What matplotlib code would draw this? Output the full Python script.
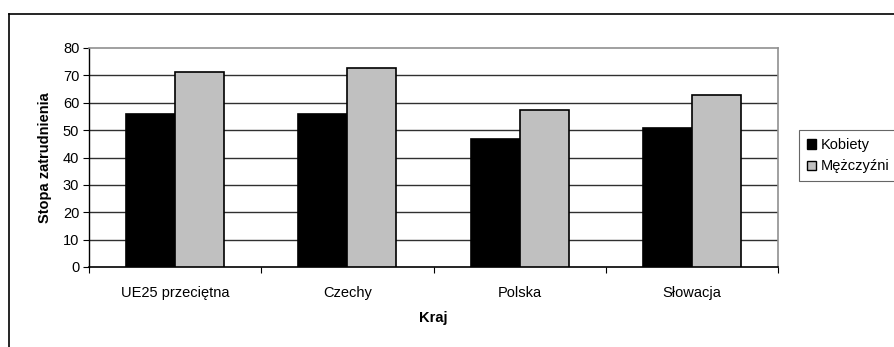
import matplotlib
matplotlib.use("Agg")
import matplotlib.pyplot as plt
from matplotlib.patches import Patch
from matplotlib.lines import Line2D
import numpy as np

plt.rcParams['font.family'] = ['Liberation Sans', 'DejaVu Sans']

categories = ["UE25 przeciętna", "Czechy", "Polska", "Słowacja"]
kobiety = [56.0, 56.0, 46.6, 50.8]
mezczyzni = [71.3, 72.7, 57.3, 63.0]
series_names = ["Kobiety", "Mężczyźni"]
colors = ["#000000", "#c0c0c0"]
y_ticks = [0, 10, 20, 30, 40, 50, 60, 70, 80]

W, H = 895, 347
fig = plt.figure(figsize=(W / 100, H / 100), dpi=100)

# outer chart frame (top and left edges visible)
fig.add_artist(Line2D([9 / W, 1.0], [1 - 14 / H, 1 - 14 / H], transform=fig.transFigure,
                      color="black", lw=1.2))
fig.add_artist(Line2D([9 / W, 9 / W], [0.0, 1 - 14 / H], transform=fig.transFigure,
                      color="black", lw=1.2))

ax = fig.add_axes([89 / W, 1 - 267 / H, (778 - 89) / W, (267 - 48) / H])

x = np.arange(len(categories)) + 0.5
bw = 0.285
ax.bar(x - bw / 2, kobiety, bw, color=colors[0], edgecolor="black", linewidth=1.2, zorder=3)
ax.bar(x + bw / 2, mezczyzni, bw, color=colors[1], edgecolor="black", linewidth=1.2, zorder=3)

ax.set_xlim(0, len(categories))
ax.set_ylim(0, 80)
ax.set_yticks(y_ticks)
ax.set_yticklabels([str(v) for v in y_ticks], fontsize=10.5)
ax.set_xticks(np.arange(len(categories) + 1))
ax.set_xticklabels([])
ax.set_xticks(x, minor=True)
ax.set_xticklabels(categories, minor=True, fontsize=10.5)
ax.tick_params(axis="x", which="minor", length=0, pad=14)
ax.tick_params(axis="x", which="major", length=4, direction="out", color="black")
ax.tick_params(axis="y", length=4, direction="out", pad=3)

for v in y_ticks[1:-1]:
    ax.axhline(v, color="#303030", lw=1.0, zorder=1)

ax.spines["left"].set_color("black")
ax.spines["bottom"].set_color("black")
ax.spines["left"].set_linewidth(1.0)
ax.spines["bottom"].set_linewidth(1.2)
ax.spines["top"].set_color("#909090")
ax.spines["right"].set_color("#909090")
ax.spines["top"].set_linewidth(1.2)
ax.spines["right"].set_linewidth(1.2)

ax.set_ylabel("Stopa zatrudnienia", fontsize=10.5, fontweight="bold")
ax.set_xlabel("Kraj", fontsize=10.5, fontweight="bold")
ax.yaxis.set_label_coords(-44 / (778 - 89), 0.5)
ax.xaxis.set_label_coords(0.5, -(318 - 267) / (267 - 48))
ax.yaxis.label.set_verticalalignment("center")
ax.xaxis.label.set_verticalalignment("center")

handles = [Patch(facecolor=c, edgecolor="black", linewidth=1.0) for c in colors]
leg = fig.legend(handles, series_names, loc="upper left",
                 bbox_to_anchor=(799 / W, 1 - 130 / H), fontsize=10.5,
                 frameon=True, fancybox=False, handlelength=0.6, handleheight=0.6,
                 handletextpad=0.35, borderpad=0.55, labelspacing=0.5, borderaxespad=0)
leg.get_frame().set_edgecolor("#404040")
leg.get_frame().set_linewidth(0.8)

fig.savefig("out.png", dpi=100)
